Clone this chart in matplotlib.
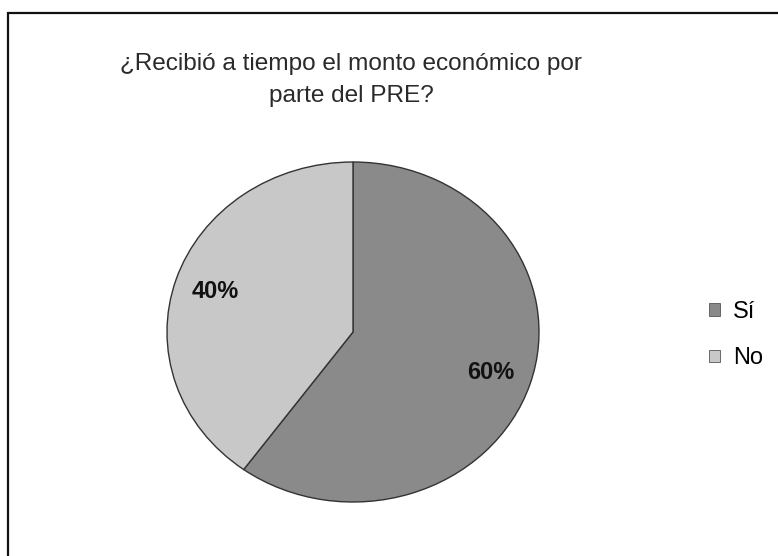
import matplotlib
matplotlib.use("Agg")
import matplotlib.pyplot as plt
from matplotlib.patches import Rectangle, Patch

plt.rcParams['font.family'] = ['Liberation Sans', 'DejaVu Sans']

title = "¿Recibió a tiempo el monto económico por\nparte del PRE?"
categories = ["Sí", "No"]
shares = [60, 40]
colors = ["#8a8a8a", "#c8c8c8"]

W, H = 778, 556
fig = plt.figure(figsize=(W / 100, H / 100), dpi=100)
fig.patch.set_facecolor("white")

# chart frame (left and top edges visible)
fig.add_artist(Rectangle((8 / W, -0.05), 1.1, 1 - 13 / H + 0.05,
                         transform=fig.transFigure, fill=False,
                         edgecolor="#111111", linewidth=1.6))

fig.text(351 / W, 1 - 80 / H, title, ha="center", va="center",
         fontsize=17.6, color="#2a2a2a", linespacing=1.55)

# pie drawn in an axes whose box sets the slightly oval shape
cx, cy, rx, ry = 353, 332, 186, 170
ax = fig.add_axes([(cx - rx) / W, 1 - (cy + ry) / H, 2 * rx / W, 2 * ry / H])
wedges, texts, autotexts = ax.pie(
    shares, colors=colors, startangle=90, counterclock=False,
    autopct="%1.0f%%", pctdistance=0.78, radius=1.0,
    wedgeprops=dict(edgecolor="#333333", linewidth=1.0),
    textprops=dict(fontsize=17, fontweight="bold", color="#111111"))
ax.set_aspect("auto")
ax.set_xlim(-1, 1)
ax.set_ylim(-1, 1)
ax.axis("off")

handles = [Patch(facecolor=c, edgecolor="#555555", linewidth=0.6) for c in colors]
fig.legend(handles, categories, loc="center left",
           bbox_to_anchor=(688 / W, 1 - 335 / H), frameon=False,
           fontsize=17, handlelength=0.45, handleheight=0.45,
           handletextpad=0.55, labelspacing=1.05)

fig.savefig("out.png", dpi=100, facecolor="white")
